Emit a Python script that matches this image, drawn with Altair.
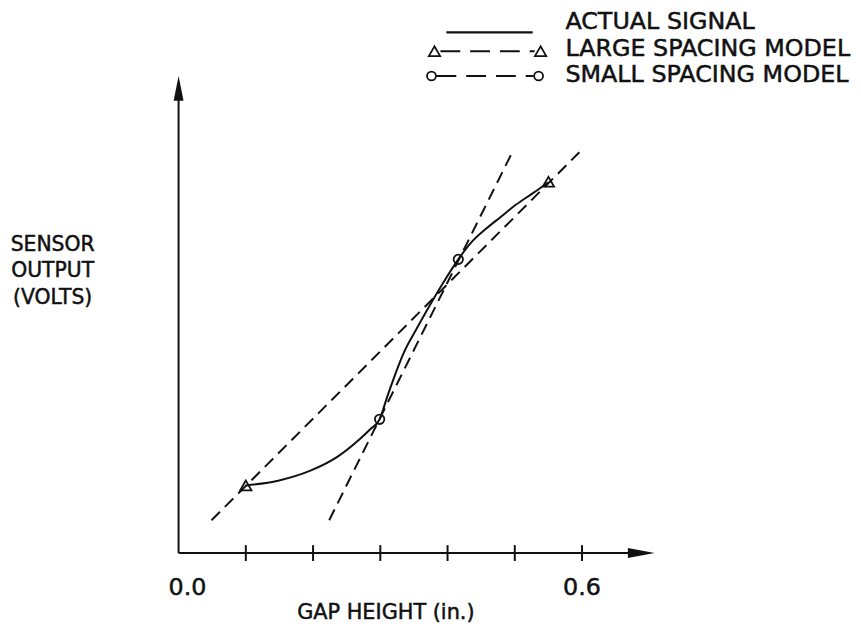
import altair as alt
import pandas as pd

# ---------------- data ----------------
actual_x = [0.100, 0.148, 0.196, 0.236, 0.270, 0.285, 0.299, 0.310, 0.320, 0.335,
            0.354, 0.373, 0.394, 0.416, 0.435, 0.457, 0.479, 0.501, 0.527, 0.550]
actual_y = [1.42, 1.52, 1.73, 2.02, 2.40, 2.60, 2.81, 3.27, 3.67, 4.21,
            4.71, 5.19, 5.69, 6.17, 6.52, 6.81, 7.06, 7.31, 7.56, 7.79]

large_line_x = [0.049, 0.596]
large_line_y = [0.69, 8.42]
large_pts_x = [0.100, 0.550]
large_pts_y = [1.42, 7.80]

small_line_x = [0.224, 0.497]
small_line_y = [0.69, 8.44]
small_pts_x = [0.299, 0.416]
small_pts_y = [2.81, 6.17]

x_ticks = [0.1, 0.2, 0.3, 0.4, 0.5, 0.6]
x_tick_labels = ["0.0", "0.6"]

legend_labels = ["ACTUAL SIGNAL", "LARGE SPACING MODEL", "SMALL SPACING MODEL"]
x_title = "GAP HEIGHT (in.)"
y_title = ["SENSOR", "OUTPUT", "(VOLTS)"]

# ---------------- tables ----------------
actual_df = pd.DataFrame({"x": actual_x, "y": actual_y})
large_line_df = pd.DataFrame({"x": large_line_x, "y": large_line_y})
large_pts_df = pd.DataFrame({"x": large_pts_x, "y": large_pts_y})
small_line_df = pd.DataFrame({"x": small_line_x, "y": small_line_y})
small_pts_df = pd.DataFrame({"x": small_pts_x, "y": small_pts_y})
ticks_df = pd.DataFrame({"t": x_ticks})
one = pd.DataFrame({"a": [0]})

INK = "#111111"
FONT = "DejaVu Sans"
TXT = dict(font=FONT, color=INK, stroke=INK, strokeWidth=0.5, baseline="alphabetic")

xs = alt.Scale(domain=[0, 0.708], nice=False, zero=False)
ys = alt.Scale(domain=[0, 10], nice=False, zero=False)
X = alt.X("x:Q", scale=xs, axis=None)
Y = alt.Y("y:Q", scale=ys, axis=None)

# axes
x_axis = alt.Chart(one).mark_rule(color=INK, strokeWidth=2).encode(
    x=alt.value(0), x2=alt.value(462), y=alt.value(480))
y_axis = alt.Chart(one).mark_rule(color=INK, strokeWidth=2).encode(
    x=alt.value(0), y=alt.value(20), y2=alt.value(480))
y_arrow = alt.Chart(one).mark_point(
    shape="M0,-1L0.4,1L-0.4,1Z", size=625, filled=True, color=INK, opacity=1
).encode(x=alt.value(0), y=alt.value(11.5))
x_arrow = alt.Chart(one).mark_point(
    shape="M1,0L-1,-0.37L-1,0.37Z", size=729, filled=True, color=INK, opacity=1
).encode(x=alt.value(466.5), y=alt.value(480))
ticks = alt.Chart(ticks_df).mark_rule(color=INK, strokeWidth=2).encode(
    x=alt.X("t:Q", scale=xs, axis=None), y=alt.value(472), y2=alt.value(488))

# data marks
large_line = alt.Chart(large_line_df).mark_line(
    color=INK, strokeWidth=2, strokeDash=[12, 7]).encode(x=X, y=Y)
small_line = alt.Chart(small_line_df).mark_line(
    color=INK, strokeWidth=2, strokeDash=[12, 7]).encode(x=X, y=Y)
actual = alt.Chart(actual_df).mark_line(
    color=INK, strokeWidth=2, interpolate="monotone").encode(x=X, y=Y)
large_pts = alt.Chart(large_pts_df).mark_point(
    shape="triangle-up", size=130, filled=False, color=INK, strokeWidth=1.8,
    opacity=1).encode(x=X, y=Y)
small_pts = alt.Chart(small_pts_df).mark_point(
    shape="circle", size=90, filled=False, color=INK, strokeWidth=1.8,
    opacity=1).encode(x=X, y=Y)

# tick labels and titles
lbl0 = alt.Chart(one).mark_text(fontSize=24, align="center", dx=9, **TXT).encode(
    x=alt.datum(0.0, scale=xs), y=alt.value(522), text=alt.value(x_tick_labels[0]))
lbl6 = alt.Chart(one).mark_text(fontSize=24, align="center", **TXT).encode(
    x=alt.datum(0.6, scale=xs), y=alt.value(522), text=alt.value(x_tick_labels[1]))
xt = alt.Chart(one).mark_text(fontSize=21, align="center", **TXT).encode(
    x=alt.value(209), y=alt.value(546), text=alt.value(x_title))
yt = alt.Chart(one).mark_text(fontSize=20.5, align="center", lineHeight=27, **TXT).encode(
    x=alt.value(-127), y=alt.value(175), text=alt.value(y_title))

# legend
leg_text = []
for lab, yy in zip(legend_labels, [-48, -21, 5]):
    leg_text.append(alt.Chart(one).mark_text(fontSize=24, align="left", **TXT).encode(
        x=alt.value(390), y=alt.value(yy), text=alt.value(lab)))
leg1 = alt.Chart(one).mark_rule(color=INK, strokeWidth=2.2).encode(
    x=alt.value(270), x2=alt.value(357), y=alt.value(-45))
leg2 = alt.Chart(one).mark_rule(color=INK, strokeWidth=2.2, strokeDash=[20, 10]).encode(
    x=alt.value(264), x2=alt.value(359), y=alt.value(-26))
leg2a = alt.Chart(one).mark_point(shape="triangle-up", size=130, filled=False, color=INK,
                                  strokeWidth=1.8, opacity=1).encode(
    x=alt.value(258), y=alt.value(-26))
leg2b = alt.Chart(one).mark_point(shape="triangle-up", size=130, filled=False, color=INK,
                                  strokeWidth=1.8, opacity=1).encode(
    x=alt.value(365), y=alt.value(-26))
leg3 = alt.Chart(one).mark_rule(color=INK, strokeWidth=2.2, strokeDash=[20, 10]).encode(
    x=alt.value(260), x2=alt.value(358), y=alt.value(-1))
leg3a = alt.Chart(one).mark_point(shape="circle", size=81, filled=False, color=INK,
                                  strokeWidth=1.8, opacity=1).encode(
    x=alt.value(255), y=alt.value(-1))
leg3b = alt.Chart(one).mark_point(shape="circle", size=81, filled=False, color=INK,
                                  strokeWidth=1.8, opacity=1).encode(
    x=alt.value(363), y=alt.value(-1))

chart = alt.layer(
    x_axis, y_axis, y_arrow, x_arrow, ticks,
    large_line, small_line, actual, large_pts, small_pts,
    lbl0, lbl6, xt, yt, *leg_text, leg1, leg2, leg2a, leg2b, leg3, leg3a, leg3b
).properties(
    width=480, height=480,
    padding={"left": 172, "top": 67, "right": 200, "bottom": 75},
    autosize=alt.AutoSizeParams(type="none"),
    background="white",
).configure_view(stroke=None)

chart.save("out.html", embed_options={"renderer": "svg", "actions": False})
